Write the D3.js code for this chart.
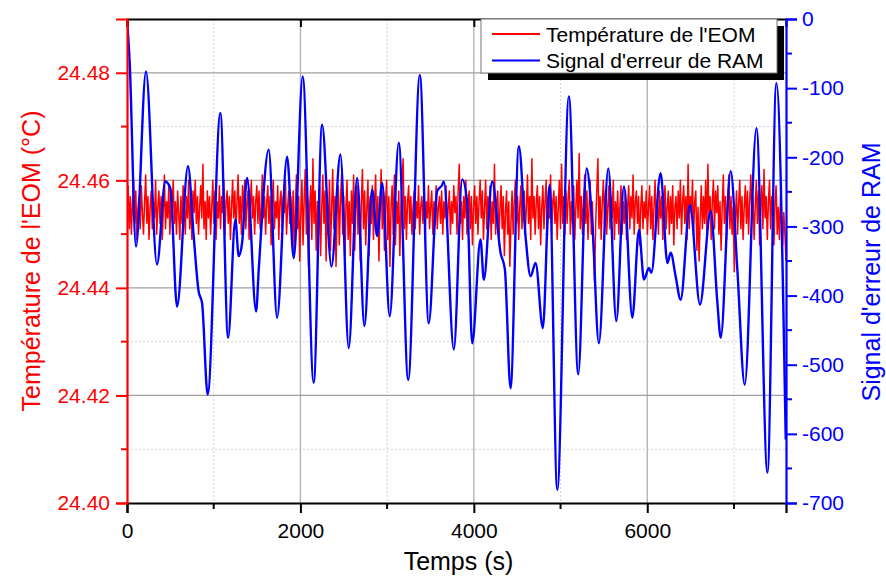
<!DOCTYPE html>
<html>
<head>
<meta charset="utf-8">
<script src="https://cdn.jsdelivr.net/npm/d3@7"></script>
<style>
    body { margin: 0; background: #fff; }
    svg { display: block; font-family: "Liberation Sans", Arial, sans-serif; }
</style>
</head>
<body>
<div id="chart"></div>
<script>
//RAM error signal (time in s, signal in a.u.)
const ramTime = [0, 30, 104, 219, 346, 442, 500, 577, 704, 769,
    826, 866, 930, 1077, 1166, 1250, 1288, 1327, 1385, 1489,
    1519, 1634, 1731, 1846, 1923, 2026, 2153, 2250, 2358, 2461,
    2557, 2654, 2738, 2827, 2885, 2943, 3030, 3134, 3243, 3377,
    3480, 3577, 3635, 3654, 3769, 3866, 3924, 3981, 4077, 4115,
    4212, 4308, 4358, 4423, 4519, 4596, 4654, 4712, 4796, 4873,
    4962, 5096, 5204, 5300, 5366, 5442, 5551, 5643, 5731, 5828,
    5904, 5962, 6019, 6047, 6154, 6232, 6270, 6327, 6385, 6492,
    6608, 6731, 6809, 6847, 6962, 7039, 7124, 7259, 7386, 7489,
    7597];
const ramSignal = [0, -60, -329, -76, -355, -235, -245, -416, -213, -314,
    -394, -411, -543, -136, -461, -290, -343, -324, -230, -423,
    -363, -189, -432, -199, -346, -83, -526, -153, -358, -196,
    -476, -230, -444, -247, -314, -237, -430, -179, -522, -81,
    -440, -249, -240, -235, -478, -232, -266, -469, -319, -377,
    -235, -338, -362, -534, -184, -314, -372, -353, -447, -240,
    -681, -112, -514, -216, -295, -469, -216, -437, -242, -432,
    -305, -377, -360, -367, -223, -353, -338, -372, -406, -269,
    -413, -278, -411, -461, -220, -363, -529, -158, -656, -93,
    -608];

//EOM temperature (°C), sampled every tempStep seconds from t = 0
const tempStep = 12.688;
const tempValues = [
    24.453, 24.459, 24.451, 24.457, 24.450, 24.456, 24.460, 24.452, 24.458, 24.449, 24.455, 24.457, 24.451, 24.459, 24.454, 24.450, 24.456, 24.461, 24.452, 24.457, 24.449, 24.455, 24.458, 24.451, 24.456,
    24.453, 24.460, 24.450, 24.455, 24.458, 24.452, 24.457, 24.449, 24.454, 24.461, 24.451, 24.456, 24.453, 24.459, 24.450, 24.457, 24.455, 24.460, 24.452, 24.456, 24.450, 24.458, 24.454, 24.449, 24.457,
    24.452, 24.459, 24.455, 24.450, 24.457, 24.453, 24.460, 24.451, 24.456, 24.449, 24.458, 24.454, 24.460, 24.452, 24.457, 24.450, 24.455, 24.459, 24.453, 24.463, 24.451, 24.456, 24.449, 24.458, 24.453,
    24.457, 24.450, 24.455, 24.460, 24.452, 24.458, 24.449, 24.456, 24.453, 24.459, 24.451, 24.457, 24.454, 24.460, 24.450, 24.456, 24.458, 24.452, 24.457, 24.449, 24.455, 24.460, 24.453, 24.458, 24.451,
    24.456, 24.461, 24.452, 24.457, 24.450, 24.459, 24.454, 24.460, 24.451, 24.456, 24.458, 24.449, 24.455, 24.460, 24.453, 24.457, 24.450, 24.456, 24.459, 24.452, 24.458, 24.451, 24.455, 24.461, 24.453,
    24.457, 24.450, 24.456, 24.459, 24.452, 24.457, 24.448, 24.455, 24.460, 24.451, 24.456, 24.453, 24.459, 24.449, 24.456, 24.458, 24.451, 24.457, 24.454, 24.460, 24.450, 24.455, 24.458, 24.452, 24.457,
    24.449, 24.458, 24.446, 24.455, 24.461, 24.451, 24.457, 24.445, 24.454, 24.460, 24.448, 24.456, 24.462, 24.450, 24.457, 24.444, 24.455, 24.459, 24.449, 24.464, 24.452, 24.458, 24.447, 24.456, 24.450,
    24.459, 24.446, 24.455, 24.461, 24.452, 24.458, 24.445, 24.456, 24.450, 24.460, 24.447, 24.455, 24.462, 24.451, 24.457, 24.444, 24.454, 24.459, 24.448, 24.456, 24.461, 24.450, 24.457, 24.445, 24.455,
    24.460, 24.449, 24.456, 24.446, 24.458, 24.452, 24.461, 24.447, 24.455, 24.459, 24.450, 24.457, 24.445, 24.456, 24.462, 24.451, 24.458, 24.448, 24.455, 24.460, 24.446, 24.457, 24.452, 24.459, 24.449,
    24.456, 24.461, 24.450, 24.457, 24.445, 24.455, 24.462, 24.451, 24.458, 24.447, 24.456, 24.460, 24.449, 24.457, 24.444, 24.455, 24.459, 24.450, 24.461, 24.448, 24.456, 24.452, 24.458, 24.446, 24.455,
    24.460, 24.464, 24.451, 24.457, 24.449, 24.456, 24.459, 24.452, 24.457, 24.450, 24.455, 24.458, 24.451, 24.456, 24.453, 24.459, 24.450, 24.455, 24.457, 24.452, 24.458, 24.449, 24.456, 24.453, 24.459,
    24.451, 24.455, 24.458, 24.450, 24.456, 24.453, 24.459, 24.451, 24.455, 24.457, 24.452, 24.458, 24.450, 24.456, 24.453, 24.459, 24.451, 24.455, 24.458, 24.450, 24.456, 24.452, 24.459, 24.454, 24.457,
    24.450, 24.458, 24.463, 24.452, 24.456, 24.449, 24.457, 24.453, 24.460, 24.450, 24.456, 24.458, 24.451, 24.457, 24.448, 24.455, 24.459, 24.452, 24.457, 24.450, 24.456, 24.460, 24.453, 24.458, 24.449,
    24.455, 24.460, 24.451, 24.457, 24.454, 24.459, 24.449, 24.456, 24.452, 24.463, 24.450, 24.456, 24.458, 24.448, 24.455, 24.459, 24.451, 24.457, 24.446, 24.454, 24.458, 24.450, 24.456, 24.444, 24.452,
    24.458, 24.450, 24.456, 24.460, 24.452, 24.457, 24.449, 24.455, 24.459, 24.451, 24.456, 24.458, 24.450, 24.455, 24.461, 24.452, 24.457, 24.449, 24.464, 24.453, 24.457, 24.450, 24.456, 24.459, 24.451,
    24.457, 24.448, 24.455, 24.459, 24.451, 24.456, 24.460, 24.449, 24.457, 24.453, 24.461, 24.450, 24.456, 24.458, 24.452, 24.457, 24.449, 24.455, 24.460, 24.451, 24.463, 24.452, 24.457, 24.450, 24.458,
    24.452, 24.457, 24.460, 24.450, 24.456, 24.452, 24.459, 24.449, 24.455, 24.460, 24.453, 24.465, 24.451, 24.457, 24.450, 24.456, 24.461, 24.452, 24.458, 24.449, 24.455, 24.460, 24.450, 24.456, 24.448,
    24.441, 24.452, 24.458, 24.464, 24.451, 24.457, 24.449, 24.456, 24.460, 24.452, 24.458, 24.450, 24.455, 24.459, 24.451, 24.457, 24.453, 24.460, 24.449, 24.456, 24.452, 24.458, 24.450, 24.455, 24.459,
    24.450, 24.456, 24.452, 24.458, 24.449, 24.455, 24.459, 24.451, 24.457, 24.453, 24.461, 24.450, 24.456, 24.458, 24.452, 24.457, 24.448, 24.455, 24.459, 24.451, 24.456, 24.453, 24.458, 24.450, 24.455,
    24.459, 24.451, 24.457, 24.449, 24.455, 24.460, 24.452, 24.456, 24.450, 24.458, 24.453, 24.457, 24.449, 24.456, 24.459, 24.451, 24.455, 24.458, 24.450, 24.457, 24.452, 24.459, 24.448, 24.455, 24.457,
    24.451, 24.458, 24.453, 24.460, 24.450, 24.456, 24.459, 24.452, 24.457, 24.449, 24.463, 24.451, 24.457, 24.454, 24.460, 24.450, 24.456, 24.458, 24.447, 24.455, 24.445, 24.453, 24.459, 24.451, 24.457,
    24.452, 24.460, 24.450, 24.463, 24.453, 24.457, 24.449, 24.456, 24.460, 24.451, 24.458, 24.454, 24.459, 24.450, 24.456, 24.447, 24.455, 24.461, 24.452, 24.457, 24.449, 24.456, 24.461, 24.451, 24.457,
    24.450, 24.455, 24.443, 24.453, 24.458, 24.450, 24.456, 24.460, 24.451, 24.457, 24.449, 24.455, 24.459, 24.452, 24.458, 24.450, 24.456, 24.461, 24.453, 24.457, 24.449, 24.455, 24.460, 24.452, 24.458,
    24.448, 24.455, 24.459, 24.451, 24.462, 24.453, 24.457, 24.449, 24.456, 24.460, 24.451, 24.457, 24.454, 24.448, 24.456, 24.459, 24.450, 24.455, 24.449, 24.457, 24.452, 24.448, 24.454, 24.450, 24.445
];

//ticks and labels
const xTicks = [0, 2000, 4000, 6000];
const xMinorTicks = [1000, 3000, 5000, 7000];
const tempTicks = [24.40, 24.42, 24.44, 24.46, 24.48];
const tempMinorTicks = [24.41, 24.43, 24.45, 24.47];
const ramTicks = [0, -100, -200, -300, -400, -500, -600, -700];
const ramMinorTicks = [-50, -150, -250, -350, -450, -550, -650];
const legendLabels = ["Température de l'EOM", "Signal d'erreur de RAM"];
const xAxisLabel = 'Temps (s)';
const tempAxisLabel = "Température de l'EOM (°C)";
const ramAxisLabel = "Signal d'erreur de RAM";

document.addEventListener("DOMContentLoaded", function () {
    const W = 886, H = 577;
    const margin = {top: 19, right: 100, bottom: 74, left: 127},
        innerWidth = W - margin.left - margin.right,
        innerHeight = H - margin.top - margin.bottom;

    const red = '#ff0000', blue = '#0000ff';

    const svg = d3.select('#chart').append('svg')
        .attr('width', W)
        .attr('height', H);

    const g = svg.append('g')
        .attr('transform', `translate(${margin.left},${margin.top})`);

    //scales
    const xScale = d3.scaleLinear().domain([0, 7600]).range([0, innerWidth]);
    const yTemp = d3.scaleLinear().domain([24.40, 24.49]).range([innerHeight, 0]);
    const yRam = d3.scaleLinear().domain([-700, 0]).range([innerHeight, 0]);

    //grid: minor dashed, major solid
    g.append('g').selectAll('line').data(xMinorTicks).join('line')
        .attr('x1', d => xScale(d)).attr('x2', d => xScale(d))
        .attr('y1', 0).attr('y2', innerHeight)
        .attr('stroke', '#d4d4d4').attr('stroke-dasharray', '2,2');
    g.append('g').selectAll('line').data(tempMinorTicks).join('line')
        .attr('x1', 0).attr('x2', innerWidth)
        .attr('y1', d => yTemp(d)).attr('y2', d => yTemp(d))
        .attr('stroke', '#d4d4d4').attr('stroke-dasharray', '2,2');
    g.append('g').selectAll('line').data(xTicks.slice(1)).join('line')
        .attr('x1', d => xScale(d)).attr('x2', d => xScale(d))
        .attr('y1', 0).attr('y2', innerHeight)
        .attr('stroke', '#b4b4b4').attr('stroke-width', 1.4);
    g.append('g').selectAll('line').data(tempTicks.slice(1)).join('line')
        .attr('x1', 0).attr('x2', innerWidth)
        .attr('y1', d => yTemp(d)).attr('y2', d => yTemp(d))
        .attr('stroke', '#a0a0a0').attr('stroke-width', 1.2);

    //clip the curves to the plot area
    svg.append('defs').append('clipPath').attr('id', 'plotClip')
        .append('rect').attr('width', innerWidth).attr('height', innerHeight);

    const plot = g.append('g').attr('clip-path', 'url(#plotClip)');

    //temperature curve
    plot.append('path')
        .datum(tempValues)
        .attr('fill', 'none')
        .attr('stroke', red)
        .attr('stroke-width', 1.5)
        .attr('stroke-linejoin', 'round')
        .attr('d', d3.line()
            .x((d, i) => xScale(i * tempStep))
            .y(d => yTemp(d)));

    //RAM error signal curve
    plot.append('path')
        .datum(ramTime.map((t, i) => ({t: t, v: ramSignal[i]})))
        .attr('fill', 'none')
        .attr('stroke', blue)
        .attr('stroke-width', 2.4)
        .attr('stroke-linejoin', 'round')
        .attr('d', d3.line()
            .curve(d3.curveMonotoneX)
            .x(d => xScale(d.t))
            .y(d => yRam(d.v)));

    //axes
    const tickFont = 21;

    //top frame with inward ticks
    const topAxis = g.append('g').call(d3.axisTop(xScale).tickValues(xTicks).tickSize(-8).tickFormat(''));
    topAxis.select('.domain').attr('stroke', '#000').attr('stroke-width', 2.2);
    topAxis.selectAll('.tick line').attr('stroke', '#000').attr('stroke-width', 2);

    //bottom axis
    const xAxisG = g.append('g')
        .attr('transform', `translate(0,${innerHeight})`)
        .call(d3.axisBottom(xScale).tickValues(xTicks).tickSize(10).tickPadding(10).tickFormat(d3.format('d')));
    xAxisG.select('.domain').attr('stroke', '#000').attr('stroke-width', 2.2);
    xAxisG.selectAll('.tick line').attr('stroke', '#000').attr('stroke-width', 2);
    xAxisG.selectAll('.tick text').attr('font-size', tickFont).attr('fill', '#000');
    xAxisG.append('g').selectAll('line').data(xMinorTicks).join('line')
        .attr('x1', d => xScale(d)).attr('x2', d => xScale(d))
        .attr('y1', 0).attr('y2', 6)
        .attr('stroke', '#000').attr('stroke-width', 2);

    //left axis (temperature)
    const yTempG = g.append('g')
        .call(d3.axisLeft(yTemp).tickValues(tempTicks).tickSize(11).tickPadding(6).tickFormat(d3.format('.2f')));
    yTempG.select('.domain').attr('stroke', red).attr('stroke-width', 2.2);
    yTempG.selectAll('.tick line').attr('stroke', red).attr('stroke-width', 2);
    yTempG.selectAll('.tick text').attr('font-size', tickFont).attr('fill', red);
    yTempG.append('g').selectAll('line').data(tempMinorTicks).join('line')
        .attr('x1', 0).attr('x2', -6)
        .attr('y1', d => yTemp(d)).attr('y2', d => yTemp(d))
        .attr('stroke', red).attr('stroke-width', 2);

    //right axis (RAM signal)
    const yRamG = g.append('g')
        .attr('transform', `translate(${innerWidth},0)`)
        .call(d3.axisRight(yRam).tickValues(ramTicks).tickSize(11).tickPadding(5).tickFormat(d => String(d)));
    yRamG.select('.domain').attr('stroke', blue).attr('stroke-width', 2.2);
    yRamG.selectAll('.tick line').attr('stroke', blue).attr('stroke-width', 2);
    yRamG.selectAll('.tick text').attr('font-size', tickFont).attr('fill', blue);
    yRamG.append('g').selectAll('line').data(ramMinorTicks).join('line')
        .attr('x1', 0).attr('x2', 6)
        .attr('y1', d => yRam(d)).attr('y2', d => yRam(d))
        .attr('stroke', blue).attr('stroke-width', 2);

    //axis titles
    svg.append('text')
        .attr('x', margin.left + innerWidth / 2 + 2)
        .attr('y', 570)
        .attr('text-anchor', 'middle')
        .attr('font-size', 25)
        .attr('fill', '#000')
        .text(xAxisLabel);

    svg.append('text')
        .attr('transform', `translate(40,${margin.top + innerHeight / 2}) rotate(-90)`)
        .attr('text-anchor', 'middle')
        .attr('font-size', 25)
        .attr('fill', red)
        .text(tempAxisLabel);

    svg.append('text')
        .attr('transform', `translate(880,272) rotate(-90)`)
        .attr('text-anchor', 'middle')
        .attr('font-size', 25)
        .attr('fill', blue)
        .text(ramAxisLabel);

    //legend with drop shadow
    const legend = svg.append('g').attr('transform', 'translate(481,19)');
    legend.append('rect')
        .attr('x', 7).attr('y', 7).attr('width', 296).attr('height', 54)
        .attr('fill', '#000');
    legend.append('rect')
        .attr('width', 296).attr('height', 54)
        .attr('fill', '#fff').attr('stroke', '#777').attr('stroke-width', 1);

    const colors = [red, blue];
    legendLabels.forEach((label, i) => {
        const y = 15 + i * 26.5;
        legend.append('line')
            .attr('x1', 11).attr('x2', 59)
            .attr('y1', y).attr('y2', y)
            .attr('stroke', colors[i]).attr('stroke-width', 2);
        legend.append('text')
            .attr('x', 65).attr('y', y + 7.5)
            .attr('font-size', 21)
            .attr('fill', '#000')
            .text(label);
    });
});
</script>
</body>
</html>
